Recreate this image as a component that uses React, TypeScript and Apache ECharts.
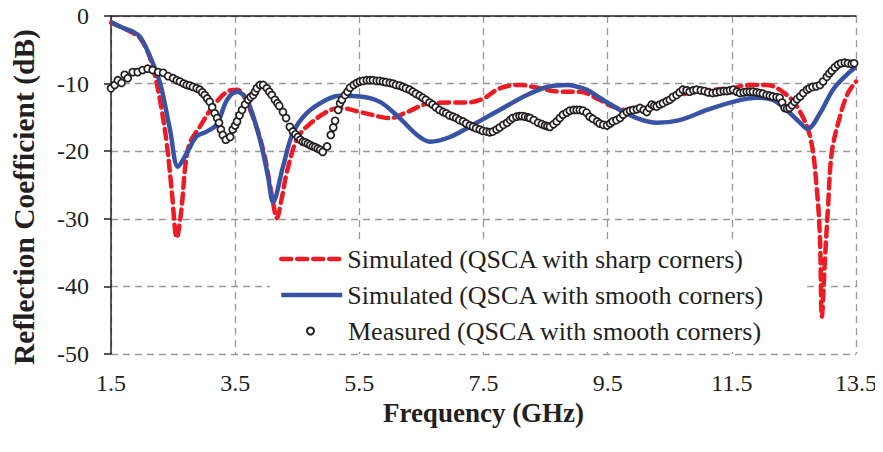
import React, { useEffect, useRef } from "react";
import * as echarts from "echarts";

const xTicks = [1.5, 3.5, 5.5, 7.5, 9.5, 11.5, 13.5];
const yTicks = [0, -10, -20, -30, -40, -50];

const sharpFreq = [1.5, 1.7, 1.85, 1.97, 2.1, 2.2, 2.3, 2.4, 2.48, 2.56, 2.63, 2.7, 2.77, 2.93, 3.14, 3.37, 3.53, 3.74, 3.95, 4.1, 4.17, 4.25, 4.33, 4.49, 4.65, 4.97, 5.19, 5.51, 5.88, 6.0, 6.27, 6.64, 7.0, 7.23, 7.5, 7.76, 8.09, 8.41, 8.73, 9.05, 9.37, 9.58, 9.86, 10.13, 10.66, 11.19, 11.52, 11.74, 12.06, 12.32, 12.55, 12.76, 12.87, 12.92, 12.95, 13.0, 13.05, 13.11, 13.24, 13.37, 13.5];
const sharpDb = [-1.0, -1.8, -2.5, -3.3, -5.5, -8.5, -13, -19, -26, -32.8, -29, -22, -18.8, -16.4, -13.4, -11.2, -10.9, -13.9, -19.8, -27, -29.9, -27, -23.2, -18.3, -16.4, -14.2, -13.6, -14.2, -15, -15.1, -14.2, -12.9, -12.8, -12.8, -12.2, -10.7, -10.2, -10.7, -11.2, -11.2, -12.4, -13.4, -14.0, -13.6, -11.7, -10.9, -10.7, -10.2, -10.2, -11.2, -13.4, -17.8, -25.7, -33, -44.5, -36, -28.2, -20.2, -14.9, -11.4, -9.7];

const smoothFreq = [1.5, 1.7, 1.85, 1.97, 2.13, 2.29, 2.45, 2.58, 2.72, 2.88, 3.04, 3.2, 3.37, 3.53, 3.69, 3.9, 4.03, 4.11, 4.27, 4.43, 4.65, 4.97, 5.19, 5.51, 5.83, 6.15, 6.43, 6.64, 6.96, 7.33, 7.76, 8.2, 8.52, 8.84, 9.16, 9.37, 9.7, 9.97, 10.29, 10.66, 11.1, 11.52, 11.9, 12.16, 12.38, 12.6, 12.72, 12.92, 13.13, 13.35, 13.5];
const smoothDb = [-0.9, -1.8, -2.3, -3.1, -6, -9.9, -16.8, -22.3, -20.3, -17.8, -17.1, -16.1, -12.4, -11.2, -12.4, -18.3, -23.8, -27.5, -22.3, -17.3, -14.4, -12.4, -11.8, -11.9, -12.7, -15.1, -17.6, -18.6, -17.9, -16.1, -13.9, -11.7, -10.5, -10.2, -10.9, -12.1, -13.9, -15.1, -15.8, -15.4, -13.9, -12.7, -12.1, -12.4, -13.9, -15.8, -16.7, -14.4, -10.9, -8.7, -7.5];

const measFreq = [1.5, 1.56, 1.61, 1.67, 1.72, 1.77, 1.85, 1.93, 2.01, 2.09, 2.17, 2.26, 2.34, 2.42, 2.5, 2.56, 2.61, 2.67, 2.72, 2.77, 2.82, 2.88, 2.93, 2.97, 3.01, 3.05, 3.09, 3.13, 3.17, 3.21, 3.24, 3.27, 3.3, 3.35, 3.42, 3.46, 3.5, 3.53, 3.57, 3.61, 3.66, 3.71, 3.75, 3.79, 3.82, 3.85, 3.9, 3.95, 4.01, 4.05, 4.09, 4.14, 4.18, 4.21, 4.27, 4.32, 4.38, 4.43, 4.47, 4.51, 4.55, 4.59, 4.63, 4.67, 4.71, 4.75, 4.79, 4.83, 4.87, 4.91, 4.98, 5.04, 5.08, 5.11, 5.16, 5.19, 5.22, 5.27, 5.31, 5.35, 5.41, 5.46, 5.51, 5.56, 5.62, 5.67, 5.72, 5.78, 5.83, 5.88, 5.93, 5.99, 6.04, 6.09, 6.15, 6.2, 6.25, 6.31, 6.36, 6.41, 6.47, 6.52, 6.57, 6.63, 6.68, 6.73, 6.79, 6.85, 6.9, 6.95, 7.01, 7.06, 7.11, 7.17, 7.22, 7.28, 7.33, 7.38, 7.44, 7.49, 7.55, 7.6, 7.65, 7.71, 7.76, 7.82, 7.88, 7.93, 7.97, 8.03, 8.08, 8.12, 8.17, 8.22, 8.25, 8.31, 8.38, 8.44, 8.49, 8.53, 8.57, 8.63, 8.68, 8.73, 8.78, 8.84, 8.89, 8.95, 9.0, 9.05, 9.1, 9.16, 9.21, 9.26, 9.33, 9.37, 9.43, 9.49, 9.54, 9.58, 9.64, 9.7, 9.75, 9.81, 9.86, 9.91, 9.97, 10.02, 10.08, 10.13, 10.17, 10.21, 10.25, 10.29, 10.34, 10.39, 10.45, 10.5, 10.55, 10.61, 10.66, 10.71, 10.77, 10.82, 10.88, 10.93, 11.0, 11.06, 11.12, 11.19, 11.25, 11.31, 11.37, 11.42, 11.47, 11.52, 11.58, 11.63, 11.69, 11.74, 11.79, 11.84, 11.9, 11.95, 12.0, 12.06, 12.11, 12.16, 12.22, 12.27, 12.31, 12.35, 12.39, 12.43, 12.47, 12.51, 12.55, 12.6, 12.65, 12.71, 12.75, 12.8, 12.86, 12.92, 12.97, 13.03, 13.07, 13.11, 13.16, 13.21, 13.26, 13.32, 13.37, 13.43, 13.47, 13.51];
const measDb = [-10.7, -10.2, -9.5, -9.9, -8.7, -9.2, -8.3, -8.3, -8.0, -7.8, -8.0, -8.3, -8.4, -8.9, -9.2, -9.5, -9.7, -10.0, -10.2, -10.3, -10.5, -10.7, -10.9, -11.3, -11.7, -12.2, -12.7, -13.5, -14.4, -15.1, -15.8, -16.8, -17.6, -18.3, -17.9, -16.8, -16.2, -15.6, -14.7, -13.9, -13.1, -12.4, -12.0, -11.7, -11.2, -10.7, -10.2, -10.2, -10.7, -11.2, -11.7, -12.4, -12.9, -13.3, -14.2, -15.1, -16.4, -17.1, -17.5, -17.9, -18.3, -18.6, -18.7, -18.9, -19.1, -19.3, -19.4, -19.6, -19.8, -20.1, -19.3, -17.6, -16.5, -15.5, -13.9, -12.9, -12.4, -11.7, -11.2, -10.6, -10.2, -9.9, -9.7, -9.6, -9.5, -9.5, -9.5, -9.6, -9.6, -9.7, -9.8, -9.9, -10.0, -10.2, -10.3, -10.5, -10.7, -10.9, -11.2, -11.5, -11.8, -12.1, -12.4, -12.8, -13.1, -13.5, -13.9, -14.2, -14.4, -14.7, -14.9, -15.1, -15.4, -15.6, -15.9, -16.2, -16.4, -16.6, -16.8, -17.0, -17.1, -17.2, -17.1, -16.8, -16.5, -16.1, -15.8, -15.4, -15.1, -14.9, -14.8, -14.8, -14.9, -15.0, -15.1, -15.4, -15.8, -16.0, -16.2, -16.3, -16.4, -16.0, -15.6, -15.1, -14.6, -14.3, -14.0, -13.9, -13.9, -13.9, -14.0, -14.3, -14.9, -15.2, -15.6, -15.9, -16.1, -16.2, -15.9, -15.6, -15.4, -15.1, -14.6, -14.2, -14.0, -13.9, -13.8, -13.6, -13.9, -14.2, -13.6, -13.1, -13.3, -13.4, -13.1, -12.9, -12.6, -12.4, -12.0, -11.7, -11.3, -10.9, -11.0, -11.2, -11.0, -10.9, -11.0, -11.1, -11.3, -11.4, -11.3, -11.2, -11.1, -11.1, -11.0, -10.9, -11.2, -11.4, -11.3, -11.2, -11.2, -11.2, -11.3, -11.4, -11.5, -11.7, -11.8, -11.9, -12.0, -12.1, -12.8, -13.6, -13.7, -13.6, -13.2, -12.7, -12.3, -11.9, -11.4, -10.9, -10.7, -10.5, -10.4, -10.2, -9.7, -9.0, -8.5, -8.1, -7.6, -7.2, -7.0, -6.9, -7.0, -7.1, -7.0, -6.9];

const seriesNames = [
  "Simulated (QSCA with sharp corners)",
  "Simulated (QSCA with smooth corners)",
  "Measured (QSCA with smooth corners)",
];

const zip = (a: number[], b: number[]) => a.map((v, i) => [v, b[i]]);

const FONT = "'Liberation Serif', 'Times New Roman', serif";
const TXT = "#231f20";
const RED = "#ed1c24";
const BLUE = "#3953a4";

export default function App() {
  const ref = useRef<HTMLDivElement>(null);
  useEffect(() => {
    if (!ref.current) return;
    const chart = echarts.init(ref.current, undefined, { renderer: "svg" });
    const legendText = { fontFamily: FONT, fontSize: 26, color: TXT };
    chart.setOption({
      animation: false,
      backgroundColor: "#fff",
      grid: { left: 111, right: 27, top: 16, bottom: 98 },
      graphic: {
        elements: [
          {
            type: "rect",
            z: 1,
            shape: { x: 270, y: 243, width: 536, height: 108 },
            style: { fill: "#fff" },
          },
        ],
      },
      legend: [
        {
          data: [{ name: seriesNames[0], itemStyle: { color: "transparent", borderWidth: 0 } }],
          left: 279,
          top: 246,
          padding: 0,
          itemWidth: 61,
          itemHeight: 14,
          lineStyle: { width: 4.5 },
          textStyle: legendText,
        },
        {
          data: [{ name: seriesNames[1], itemStyle: { color: "transparent", borderWidth: 0 } }],
          left: 279,
          top: 282,
          padding: 0,
          itemWidth: 61,
          itemHeight: 14,
          lineStyle: { width: 4.5 },
          textStyle: legendText,
        },
        {
          data: [seriesNames[2]],
          left: 306,
          top: 318,
          padding: 0,
          itemWidth: 7,
          itemHeight: 7,
          textStyle: { ...legendText, padding: [0, 0, 0, 29] },
        },
      ],
      xAxis: [
        {
          type: "value",
          min: 1.5,
          max: 13.5,
          interval: 2,
          position: "bottom",
          name: "Frequency (GHz)",
          nameLocation: "middle",
          nameGap: 37,
          nameTextStyle: { fontFamily: FONT, fontSize: 27, fontWeight: "bold", color: TXT },
          axisLine: { show: false },
          axisTick: { show: false },
          axisLabel: {
            fontFamily: FONT,
            fontSize: 24,
            color: TXT,
            margin: 17,
            formatter: (v: number) => (xTicks.includes(v) ? v.toFixed(1) : ""),
          },
          splitLine: { show: true, lineStyle: { color: "#999", type: [7, 5], width: 1.3 } },
        },
        {
          type: "value",
          min: 1.5,
          max: 13.5,
          interval: 2,
          position: "top",
          axisLine: { show: true, onZero: false, lineStyle: { color: TXT, width: 1.5 } },
          axisTick: { show: false },
          axisLabel: { show: false },
          splitLine: { show: false },
        },
      ],
      yAxis: {
        type: "value",
        min: -50,
        max: 0,
        interval: 10,
        name: "Reflection Coefficient (dB)",
        nameLocation: "middle",
        nameGap: 72,
        nameTextStyle: { fontFamily: FONT, fontSize: 29.5, fontWeight: "bold", color: TXT, padding: [0, 24, 0, 0] },
        axisLine: { show: true, onZero: false, lineStyle: { color: TXT, width: 1.5 } },
        axisTick: { show: true, length: 7, inside: false, lineStyle: { color: TXT, width: 1.5 } },
        axisLabel: {
          fontFamily: FONT,
          fontSize: 24,
          color: TXT,
          margin: 22,
          formatter: (v: number) => (yTicks.includes(v) ? String(v) : ""),
        },
        splitLine: { show: true, lineStyle: { color: "#999", type: [7, 5], width: 1.3 } },
      },
      series: [
        {
          name: seriesNames[0],
          type: "line",
          data: zip(sharpFreq, sharpDb),
          smooth: 0.35,
          symbol: "none",
          z: 3,
          itemStyle: { color: RED },
          lineStyle: { color: RED, width: 4.5, type: [10, 6], cap: "round" },
        },
        {
          name: seriesNames[1],
          type: "line",
          data: zip(smoothFreq, smoothDb),
          smooth: 0.35,
          symbol: "none",
          z: 4,
          itemStyle: { color: BLUE },
          lineStyle: { color: BLUE, width: 4.5 },
        },
        {
          name: seriesNames[2],
          type: "scatter",
          data: zip(measFreq, measDb),
          symbol: "circle",
          symbolSize: 7,
          z: 5,
          itemStyle: { color: "#fff", borderColor: TXT, borderWidth: 1.7, opacity: 1 },
        },
      ],
    });
    return () => chart.dispose();
  }, []);
  return <div ref={ref} style={{ width: 883, height: 452, margin: -8 }} />;
}
